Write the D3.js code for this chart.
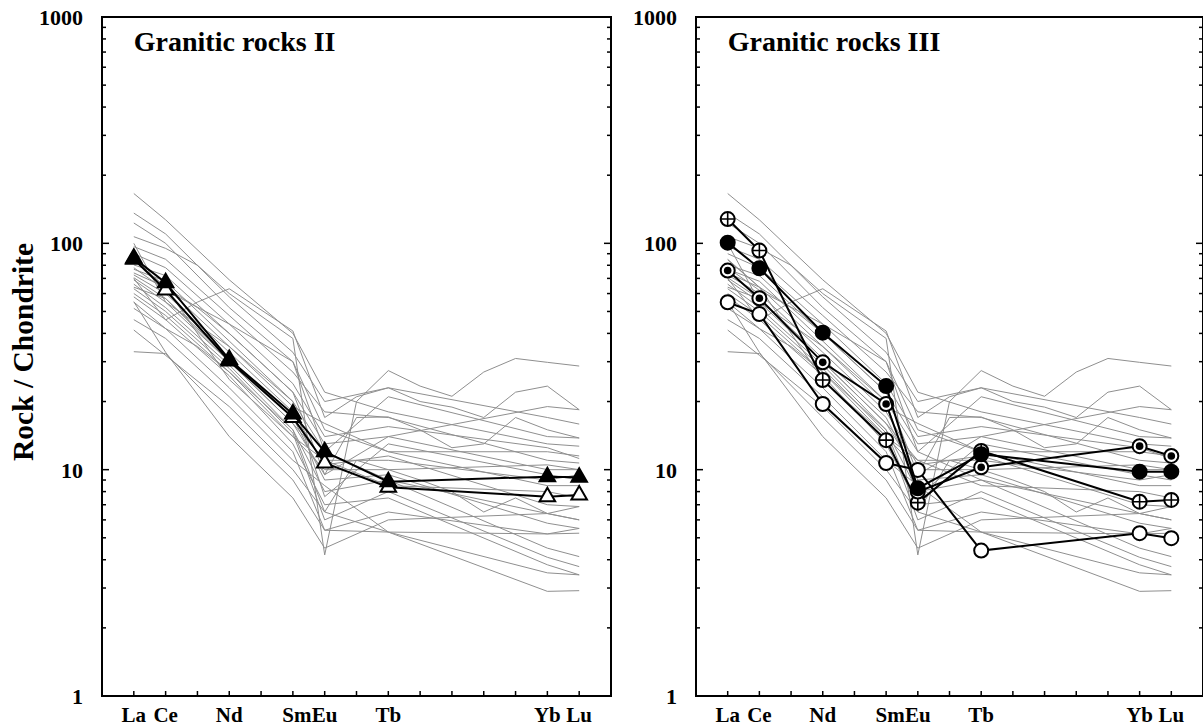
<!DOCTYPE html>
<html>
<head>
<meta charset="utf-8">
<script src="https://cdn.jsdelivr.net/npm/d3@7/dist/d3.min.js"></script>
<style>
  body { margin: 0; background: #fff; }
  text { font-family: "Liberation Serif", "Times New Roman", serif; font-weight: bold; fill: #000; }
</style>
</head>
<body>
<script>
// REE elements on the x axis, in order (Pm has no data)
const elements = ['La', 'Ce', 'Pr', 'Nd', 'Pm', 'Sm', 'Eu', 'Gd', 'Tb', 'Dy', 'Ho', 'Er', 'Tm', 'Yb', 'Lu'];
// elements with a label and with values in the short analyses
const labelled = ['La', 'Ce', 'Nd', 'Sm', 'Eu', 'Tb', 'Yb', 'Lu'];
const yTicks = [1, 10, 100, 1000];

// grey background field: short analyses (La Ce Nd Sm Eu Tb Yb Lu)
const fieldShort = [
    [166, 127, 69, 40, 22, 18, 13, 12.7],
    [136, 110, 58, 33, 20, 23, 17, 15.9],
    [123, 100, 52, 30, 12, 21, 14, 13.8],
    [96.7, 85, 48, 27, 18, 17, 11, 10.7],
    [90, 78, 44, 24, 14, 15.5, 12.5, 11.2],
    [80.3, 72, 40, 22, 13, 14, 10, 10],
    [76.8, 68, 37, 20, 7.6, 13, 9.5, 9],
    [74, 64, 35, 19, 16, 12, 8.5, 8.5],
    [72.5, 60, 33, 18, 10.5, 11.5, 7, 6.87],
    [70.5, 57, 31, 17, 9, 9.5, 5.8, 5.5],
    [68.9, 55, 30, 16, 11, 11, 9, 9.5],
    [66, 52, 29, 15, 8, 9, 4.5, 4.13],
    [63, 50, 28, 14.5, 6, 8, 4.1, 3.73],
    [60, 48, 27, 14, 10, 10, 10.5, 10],
    [58, 46, 26, 13, 7, 7.5, 3.8, 3.43],
    [51.6, 42, 23, 12, 5.4, 6.5, 5.2, 5.24],
    [46, 38, 21, 11, 8.5, 5.3, 5.2, 5.5],
    [41.4, 32, 19, 10, 6.5, 5.3, 2.9, 2.92],
    [33.2, 32.6, 17, 9, 5.4, 5.3, 3.5, 3.43],
    [55.2, 33, 14, 7.5, 4.5, 6, 6.4, 6.87],
    [85, 64, 25, 14, 11, 8.5, 8, 7.5],
    [100, 55, 35, 20, 12, 9, 6.4, 6],
    [78, 62, 44, 30, 15, 12, 12, 11.5],
    [64, 57, 30, 16, 9.5, 14, 19, 18.4]
];

// grey background field: full analyses (all 15 elements, null = not analysed)
const fieldFull = [
    [107, 95, 80, 60, null, 38, 4.2, 20, 27.4, 23.4, 21.1, 27, 31, 29.8, 28.7],
    [70, 45.9, 55, 63, null, 41, 17, 21, 23, 20, 18.9, 17, 22, 23.4, 18.4],
    [84.5, 64, 52, 40, null, 22, 9.5, 17, 17.1, 15, 12.5, 13, 17, 15, 13.8],
    [55, 42, 35, 27, null, 15, 6.5, 11, 10, 9, 8, 6.5, 7.5, 6.4, 6.0]
];

// Granitic rocks II
const gr2Open = [85, 62.2, 30.2, 17.0, 10.7, 8.36, 7.6, 7.73];
const gr2Filled = [86, 67, 30.7, 17.6, 12.0, 8.85, 9.31, 9.25];

// Granitic rocks III
const gr3Plus = [128, 92.9, 24.9, 13.5, 7.15, 12.1, 7.22, 7.35];
const gr3Dot = [75.8, 57.2, 29.8, 19.5, 8.0, 10.25, 12.7, 11.5];
const gr3Open = [54.9, 48.7, 19.5, 10.7, 9.97, 4.39, 5.24, 4.98];
const gr3Filled = [100.7, 77.6, 40.3, 23.4, 8.28, 11.7, 9.8, 9.8];

const width = 1203;
const height = 727;

const svg = d3.select('body').append('svg')
    .attr('width', width)
    .attr('height', height);

const yScale = d3.scaleLog()
    .domain([1, 1000])
    .range([696, 17]);

// turn an array of values into point objects
function shortPoints(values) {
    return values.map((v, i) => ({ el: labelled[i], v: v }));
}
function fullPoints(values) {
    return values.map((v, i) => ({ el: elements[i], v: v })).filter(d => d.v != null);
}

// draw one marker at (0,0) of g
function drawMarker(g, type) {
    if (type === 'triFilled' || type === 'triOpen') {
        g.append('path')
            .attr('d', d3.symbol(d3.symbolTriangle, 105)())
            .attr('fill', type === 'triFilled' ? '#000' : '#fff')
            .attr('stroke', '#000')
            .attr('stroke-width', 2);
        return;
    }
    g.append('circle')
        .attr('r', 7)
        .attr('fill', type === 'circFilled' ? '#000' : '#fff')
        .attr('stroke', '#000')
        .attr('stroke-width', 2);
    if (type === 'circDot') {
        g.append('circle').attr('r', 3.8).attr('fill', '#000');
    }
    if (type === 'circPlus') {
        g.append('path')
            .attr('d', 'M-7,0H7M0,-7V7')
            .attr('stroke', '#000')
            .attr('stroke-width', 1.6);
    }
}

function drawPanel(x0, x1, title, series, showYTitle) {
    const xScale = d3.scaleLinear()
        .domain([0, elements.length + 1])
        .range([x0, x1]);
    const xOf = el => xScale(elements.indexOf(el) + 1);

    const g = svg.append('g');

    const line = d3.line()
        .x(d => xOf(d.el))
        .y(d => yScale(d.v));

    // grey field
    const field = fieldShort.map(shortPoints).concat(fieldFull.map(fullPoints));
    g.selectAll('.field')
        .data(field)
        .enter().append('path')
        .attr('class', 'field')
        .attr('fill', 'none')
        .attr('stroke', '#8f8f8f')
        .attr('stroke-width', 1)
        .attr('d', line);

    // sample series
    series.forEach(s => {
        const pts = shortPoints(s.values);
        g.append('path')
            .datum(pts)
            .attr('fill', 'none')
            .attr('stroke', '#000')
            .attr('stroke-width', 2)
            .attr('d', line);
        pts.forEach(p => {
            const m = g.append('g')
                .attr('transform', `translate(${xOf(p.el)},${yScale(p.v)})`);
            drawMarker(m, s.type);
        });
    });

    // frame
    g.append('rect')
        .attr('x', x0)
        .attr('y', yScale(1000))
        .attr('width', x1 - x0)
        .attr('height', yScale(1) - yScale(1000))
        .attr('fill', 'none')
        .attr('stroke', '#000')
        .attr('stroke-width', 2);

    // y ticks, inward on both sides
    const minor = [];
    for (let d = 1; d < 1000; d *= 10) {
        for (let k = 2; k <= 9; k++) minor.push(d * k);
    }
    const allTicks = minor.map(v => ({ v: v, len: 4 }))
        .concat([10, 100].map(v => ({ v: v, len: 7 })));
    allTicks.forEach(t => {
        const y = yScale(t.v);
        g.append('line').attr('x1', x0).attr('x2', x0 + t.len).attr('y1', y).attr('y2', y)
            .attr('stroke', '#000').attr('stroke-width', 1.5);
        g.append('line').attr('x1', x1).attr('x2', x1 - t.len).attr('y1', y).attr('y2', y)
            .attr('stroke', '#000').attr('stroke-width', 1.5);
    });

    // y tick labels
    g.selectAll('.ylab')
        .data(yTicks)
        .enter().append('text')
        .attr('class', 'ylab')
        .attr('x', x0 - 19)
        .attr('y', d => yScale(d))
        .attr('dy', '0.36em')
        .attr('text-anchor', 'end')
        .style('font-size', '22px')
        .text(d => d);

    // x ticks, one per element
    elements.forEach(el => {
        g.append('line')
            .attr('x1', xOf(el)).attr('x2', xOf(el))
            .attr('y1', yScale(1)).attr('y2', yScale(1) - 5)
            .attr('stroke', '#000').attr('stroke-width', 1.5);
    });

    // x labels
    g.selectAll('.xlab')
        .data(labelled)
        .enter().append('text')
        .attr('class', 'xlab')
        .attr('x', d => xOf(d) + (d === 'Sm' ? 4 : 0))
        .attr('y', 722)
        .attr('text-anchor', 'middle')
        .style('font-size', '21px')
        .text(d => d);

    // panel title
    g.append('text')
        .attr('x', xOf('La'))
        .attr('y', 51)
        .style('font-size', '28px')
        .text(title);

    if (showYTitle) {
        g.append('text')
            .attr('transform', 'translate(33,243) rotate(-90)')
            .attr('text-anchor', 'end')
            .style('font-size', '29.5px')
            .text('Rock / Chondrite');
    }
}

drawPanel(102, 611, 'Granitic rocks II', [
    { values: gr2Open, type: 'triOpen' },
    { values: gr2Filled, type: 'triFilled' }
], true);

drawPanel(696, 1203, 'Granitic rocks III', [
    { values: gr3Plus, type: 'circPlus' },
    { values: gr3Dot, type: 'circDot' },
    { values: gr3Open, type: 'circOpen' },
    { values: gr3Filled, type: 'circFilled' }
], false);
</script>
</body>
</html>
